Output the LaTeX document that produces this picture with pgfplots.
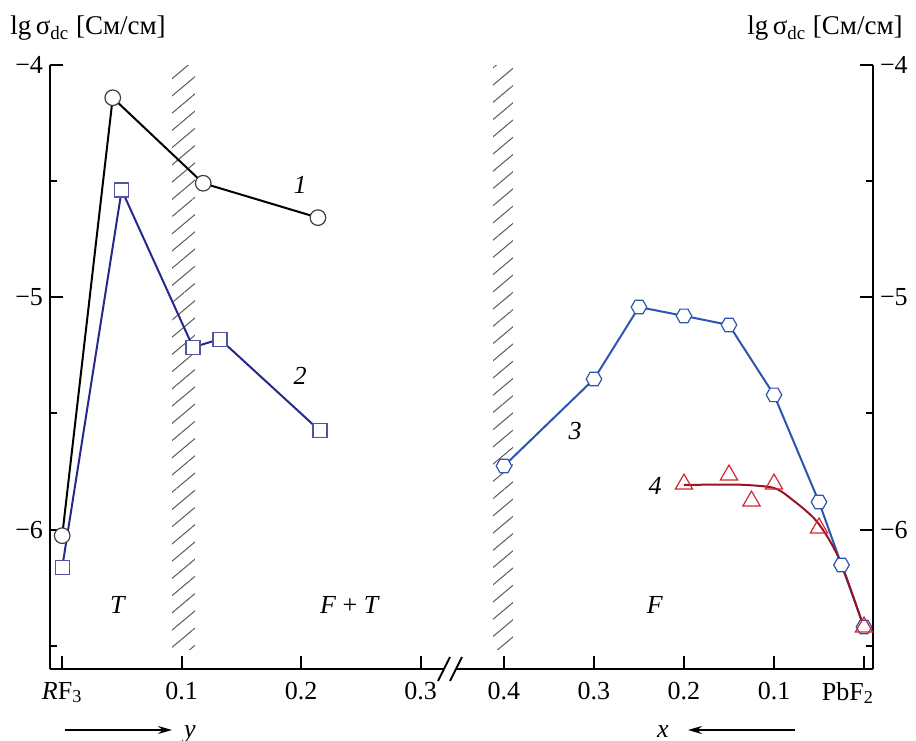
\documentclass[border=0pt]{standalone}
\usepackage{fontspec}
\setmainfont{Liberation Serif}
\usepackage{pgfplots}
\pgfplotsset{compat=1.18}
\usetikzlibrary{patterns.meta,arrows.meta}
\definecolor{cnavy}{RGB}{40,40,140}
\definecolor{cblue}{RGB}{45,85,175}
\definecolor{cred}{RGB}{210,40,50}
\definecolor{cdred}{RGB}{150,20,35}
\definecolor{hatch}{RGB}{90,90,90}
\pgfdeclareplotmark{hexagon}{%
  \pgfpathmoveto{\pgfqpointpolar{0}{\pgfplotmarksize}}%
  \pgfpathlineto{\pgfqpointpolar{60}{\pgfplotmarksize}}%
  \pgfpathlineto{\pgfqpointpolar{120}{\pgfplotmarksize}}%
  \pgfpathlineto{\pgfqpointpolar{180}{\pgfplotmarksize}}%
  \pgfpathlineto{\pgfqpointpolar{240}{\pgfplotmarksize}}%
  \pgfpathlineto{\pgfqpointpolar{300}{\pgfplotmarksize}}%
  \pgfpathclose
  \pgfusepathqfillstroke}
\tikzset{hatchband/.style={pattern={Lines[angle=40,distance=6.6pt,line width=0.5pt]}, pattern color=hatch}}
\pgfplotsset{
  common/.style={
    scale only axis, width=411.5pt, height=302pt,
    ymin=-6.6, ymax=-4, clip=false,
    tick align=inside,
    major tick length=6.5pt, minor tick length=3.5pt,
    every tick/.append style={line width=1pt, black},
    every minor tick/.append style={line width=1pt, black},
    axis line style={-, line width=1pt},
    ytick={-6,-5,-4}, yticklabels={−6,−5,−4},
    minor ytick={-6.5,-5.5,-4.5},
    ticklabel style={font=\fontsize{13}{15}\selectfont},
    xticklabel style={yshift=-3pt},
  },
}
\pgfplotstableread{
y v
0 -6.026
0.0423 -4.141
0.118 -4.509
0.214 -4.657
}\seriesA
\pgfplotstableread{
y v
0 -6.163
0.0498 -4.538
0.1095 -5.215
0.132 -5.180
0.2157 -5.575
}\seriesB
\pgfplotstableread{
x v
0.4 -5.726
0.3 -5.352
0.25 -5.042
0.2 -5.080
0.15 -5.119
0.1 -5.420
0.05 -5.881
0.025 -6.152
0 -6.419
}\seriesC
\pgfplotstableread{
x v
0.2 -5.804
0.15 -5.765
0.125 -5.877
0.1 -5.804
0.05 -5.993
0 -6.419
}\seriesD
\pgfplotstableread{
x v
0.2 -5.808
0.16 -5.806
0.13 -5.808
0.1 -5.821
0.082 -5.864
0.052 -5.967
0.027 -6.131
0 -6.424
}\fitD
\begin{document}
\begin{tikzpicture}
\begin{axis}[common,
  xmin=-0.0102, xmax=0.6785,
  axis y line*=left, axis x line*=bottom,
  x axis line style={draw=none},
  xtick={0,0.1,0.2,0.3},
  xticklabels={\textit{R}F\textsubscript{3},0.1,0.2,0.3},
]
\path[hatchband] (axis cs:0.0919,-6.518) rectangle (axis cs:0.111,-4);
\addplot[black, line width=1pt, mark=*, mark size=3.9pt,
  mark options={fill=white, line width=0.6pt, draw=black!75}] table[x=y,y=v] {\seriesA};
\addplot[cnavy, line width=1pt, mark=square*, mark size=3.5pt,
  mark options={fill=white, line width=0.6pt, draw=cnavy!80}] table[x=y,y=v] {\seriesB};
\end{axis}
\begin{axis}[common,
  xmin=-0.01, xmax=0.9044, x dir=reverse,
  axis y line*=right, axis x line*=bottom,
  x axis line style={draw=none},
  xtick={0,0.1,0.2,0.3,0.4},
  xticklabels={,0.1,0.2,0.3,0.4},
]
\path[hatchband] (axis cs:0.39,-6.518) rectangle (axis cs:0.412,-4);
\addplot[cblue, line width=1pt, mark=hexagon, mark size=3.9pt,
  mark options={fill=white, line width=0.6pt, draw=cblue}] table[x=x,y=v] {\seriesC};
\addplot[cdred, line width=1pt, smooth, tension=0.5, no marks] table[x=x,y=v] {\fitD};
\addplot[only marks, mark=triangle, mark size=5pt,
  mark options={line width=0.6pt, draw=cred}] table[x=x,y=v] {\seriesD};
\end{axis}
% bottom axis line with break
\draw[line width=1pt] (0,0) -- (197pt,0);
\draw[line width=1pt] (203pt,0) -- (411.5pt,0);
\draw[line width=1pt] (194pt,-6pt) -- (200pt,6pt);
\draw[line width=1pt] (200pt,-6pt) -- (206pt,6pt);
% labels
\node[anchor=base, inner sep=0pt, font=\fontsize{13}{15}\selectfont] at (399pt,-15.5pt) {PbF\textsubscript{2}};
\node[anchor=base west, inner sep=0pt, font=\fontsize{13.5}{15}\selectfont] at (-20pt,317pt) {lg\,σ\textsubscript{dc} [См/см]};
\node[anchor=base east, inner sep=0pt, font=\fontsize{13.5}{15}\selectfont] at (426.5pt,317pt) {lg\,σ\textsubscript{dc} [См/см]};
\begin{scope}[every node/.style={font=\fontsize{13}{15}\selectfont, inner sep=0pt}]
\node[anchor=base] at (34pt,28pt) {\textit{T}};
\node[anchor=base] at (150pt,28pt) {\textit{F} + \textit{T}};
\node[anchor=base] at (302.5pt,28pt) {\textit{F}};
\node at (125pt,242pt) {\textit{1}};
\node at (125pt,146.5pt) {\textit{2}};
\node at (262.5pt,119pt) {\textit{3}};
\node at (302.5pt,91.5pt) {\textit{4}};
\node[anchor=base] at (70pt,-34pt) {\textit{y}};
\node[anchor=base] at (306.5pt,-34pt) {\textit{x}};
\end{scope}
\draw[line width=0.6pt, -{Stealth[length=7pt,width=4pt]}] (7.5pt,-30.5pt) -- (61pt,-30.5pt);
\draw[line width=0.6pt, -{Stealth[length=7pt,width=4pt]}] (372.5pt,-30.5pt) -- (319pt,-30.5pt);
\pgfresetboundingbox
\path[use as bounding box] (-25pt,-35.5pt) rectangle (433pt,334.5pt);
\end{tikzpicture}
\end{document}
